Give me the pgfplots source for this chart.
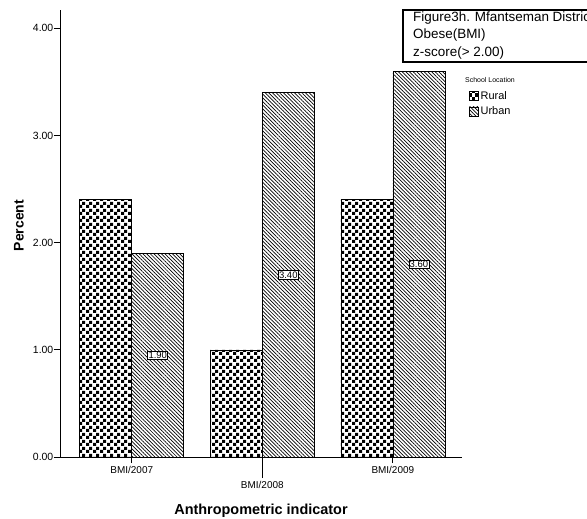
\documentclass[border=0pt]{standalone}
\usepackage{pgfplots}
\pgfplotsset{compat=1.18}
\usepackage{fontspec}
\setmainfont{Liberation Sans}
\usetikzlibrary{patterns,patterns.meta}

\tikzdeclarepattern{
  name=mycheck,
  type=uncolored,
  bottom left={(0,0)},
  top right={(6.6bp,6.6bp)},
  tile size={(6.6bp,6.6bp)},
  code={
    \fill (0,0) rectangle (3.3bp,3.3bp);
    \fill (3.3bp,3.3bp) rectangle (6.6bp,6.6bp);
  }
}
\pgfplotsset{my legend/.style={legend image code/.code={\draw[##1] (0bp,-4.5bp) rectangle (9bp,4.5bp);}}}

\begin{document}
\begin{tikzpicture}
\useasboundingbox (0,0) rectangle (587bp,519bp);
\begin{axis}[
  at={(60bp,62bp)}, anchor=south west,
  scale only axis, width=402bp, height=447bp,
  xmin=-0.55, xmax=2.53, ymin=0, ymax=4.17,
  axis x line=bottom, axis y line=left,
  axis line style={-, black, line width=0.9bp},
  ybar=0pt, bar width=52bp,
  tick align=outside, major tick length=6bp,
  tick style={black, line width=0.7bp},
  ytick={0,1,2,3,4},
  yticklabel style={/pgf/number format/fixed, /pgf/number format/fixed zerofill, /pgf/number format/precision=2, font=\fontsize{10.5}{12}\selectfont, inner sep=0.5bp},
  /pgf/number format/assume math mode=true,
  xtick={0,2}, xticklabels={BMI/2007,BMI/2009},
  xticklabel style={font=\fontsize{10}{12}\selectfont, inner sep=1bp, yshift=-2.5bp},
  extra x ticks={1}, extra x tick labels={BMI/2008},
  extra x tick style={major tick length=21bp},
  ylabel={\textbf{Percent}},
  every axis y label/.style={at={(rel axis cs:0,0.5)}, xshift=-41bp, yshift=8bp, rotate=90, anchor=center, font=\fontsize{14}{16}\selectfont},
  xlabel={\textbf{Anthropometric indicator}},
  every axis x label/.style={at={(rel axis cs:0.5,0)}, yshift=-54bp, anchor=center, font=\fontsize{14.5}{16}\selectfont},
  legend style={at={(rel axis cs:1.017,0.823)}, anchor=north west, draw=none, fill=none, font=\fontsize{11}{12}\selectfont, inner sep=0pt, row sep=2bp, legend cell align=left, /tikz/every even column/.append style={column sep=1bp}},
]
\addplot[draw=black, line width=0.6bp, pattern=mycheck, pattern color=black, my legend, bar shift=-26bp]
  coordinates {(0,2.40) (1,1.00) (2,2.40)};
\addlegendentry{Rural}
\addplot[draw=black, line width=0.6bp, pattern={Lines[angle=-45,distance=2.6bp,line width=0.7bp]}, pattern color=black, my legend, bar shift=26bp]
  coordinates {(0,1.90) (1,3.40) (2,3.60)};
\addlegendentry{Urban}
\addplot[forget plot, draw=none, fill=none, bar shift=26bp,
  nodes near coords, point meta=y,
  nodes near coords style={/pgf/number format/fixed, /pgf/number format/fixed zerofill, /pgf/number format/precision=2},
  visualization depends on=rawy \as \rawy,
  every node near coord/.append style={shift={(axis direction cs:0,-\rawy/2)}, anchor=center, fill=white, draw=black, line width=0.6bp, inner sep=0.8bp, font=\fontsize{9.5}{10}\selectfont, text=black}]
  coordinates {(0,1.90) (1,3.40) (2,3.60)};
\end{axis}
\node[anchor=west, font=\fontsize{7}{8}\selectfont, inner sep=0pt] at (465bp,439bp) {School Location};
\draw[line width=2bp] (403bp,457bp) rectangle (620bp,509bp);
\node[anchor=north west, align=left, inner sep=0pt, font=\fontsize{13.5}{17.5}\selectfont] at (413bp,507.5bp) {Figure3h. Mfantseman District\\Obese(BMI)\\z-score(> 2.00)};
\end{tikzpicture}
\end{document}
